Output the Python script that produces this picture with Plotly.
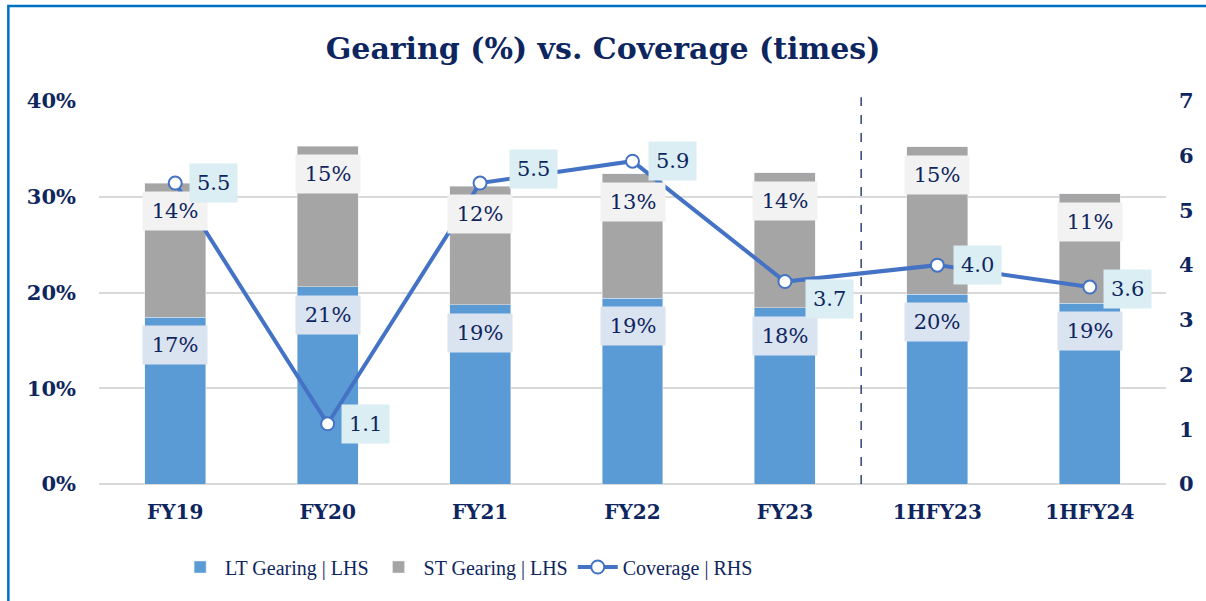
import plotly.graph_objects as go

categories = ["FY19", "FY20", "FY21", "FY22", "FY23", "1HFY23", "1HFY24"]
lt_gearing = [17.4, 20.6, 18.7, 19.4, 18.4, 19.8, 18.9]   # %
st_gearing = [14.0, 14.7, 12.4, 13.0, 14.1, 15.4, 11.4]   # %
coverage = [5.5, 1.1, 5.5, 5.9, 3.7, 4.0, 3.6]            # times

NAVY = "#0E2660"
LT_COL = "#5B9BD5"
ST_COL = "#A5A5A5"
LINE_COL = "#4472C4"
SERIF = "DejaVu Serif"

# label offsets for coverage labels (pixels)
cov_shift = [(38, 0), (38, 0), (53, 14), (40, 0), (45, -17), (40, 0), (38, -2)]

fig = go.Figure()
fig.add_trace(go.Bar(x=categories, y=[v / 100 for v in lt_gearing], name="LT Gearing | LHS",
                     marker=dict(color=LT_COL), width=0.4))
fig.add_trace(go.Bar(x=categories, y=[v / 100 for v in st_gearing], name="ST Gearing | LHS",
                     marker=dict(color=ST_COL), width=0.4))
fig.add_trace(go.Scatter(x=categories, y=coverage, name="Coverage | RHS", yaxis="y2",
                         mode="lines+markers",
                         line=dict(color=LINE_COL, width=4),
                         marker=dict(size=13, color="white", line=dict(color=LINE_COL, width=2))))

annotations = []
for i, c in enumerate(categories):
    lt = lt_gearing[i] / 100
    tot = (lt_gearing[i] + st_gearing[i]) / 100
    annotations.append(dict(x=c, y=lt, xref="x", yref="y", text=f"{lt_gearing[i]:.0f}%",
                            showarrow=False, yanchor="top", yshift=-8,
                            bgcolor="#DAE3F0", borderpad=7, width=50,
                            font=dict(family=SERIF, size=21, color=NAVY)))
    annotations.append(dict(x=c, y=tot, xref="x", yref="y", text=f"{st_gearing[i]:.0f}%",
                            showarrow=False, yanchor="top", yshift=-8,
                            bgcolor="#F2F2F2", borderpad=7, width=50,
                            font=dict(family=SERIF, size=21, color=NAVY)))
    dx, dy = cov_shift[i]
    annotations.append(dict(x=c, y=coverage[i], xref="x", yref="y2", text=f"{coverage[i]:.1f}",
                            showarrow=False, xshift=dx, yshift=dy,
                            bgcolor="#DAEEF3", borderpad=7,
                            font=dict(family=SERIF, size=21, color=NAVY)))

fig.update_layout(
    width=1206, height=601,
    margin=dict(l=99, r=36, t=101, b=117),
    paper_bgcolor="white", plot_bgcolor="white",
    barmode="stack", bargap=0.6,
    title=dict(text="<b>Gearing (%) vs. Coverage (times)</b>", x=0.5, xanchor="center",
               y=1 - 48 / 601, yanchor="middle", yref="container",
               font=dict(family=SERIF, size=30, color=NAVY)),
    xaxis=dict(type="category", showgrid=False, showline=False, ticks="",
               tickfont=dict(family=SERIF, size=20, color=NAVY, weight="bold"),
               ticklabelstandoff=14),
    yaxis=dict(range=[0, 0.40], dtick=0.1, tickformat=".0%", showgrid=True,
               gridcolor="#D9D9D9", gridwidth=2, zeroline=True, zerolinecolor="#D9D9D9",
               zerolinewidth=2,
               tickfont=dict(family=SERIF, size=21, color=NAVY, weight="bold"),
               ticklabelstandoff=22),
    yaxis2=dict(range=[0, 7], dtick=1, overlaying="y", side="right", showgrid=False,
                zeroline=False,
                tickfont=dict(family=SERIF, size=21, color=NAVY, weight="bold"),
                ticklabelstandoff=12),
    legend=dict(orientation="h", x=(468 - 99) / 1071, xanchor="center",
                y=(484 - 567) / 383, yanchor="middle",
                font=dict(family="Liberation Serif", size=20, color=NAVY),
                traceorder="normal", itemwidth=40),
    annotations=annotations,
    shapes=[
        dict(type="line", xref="x", yref="paper", x0=4.5, x1=4.5, y0=0, y1=1.01,
             line=dict(color=NAVY, width=1.3, dash="dash")),
        dict(type="rect", xref="paper", yref="paper",
             x0=(8 - 99) / 1071, x1=(1215 - 99) / 1071, y0=(484 - 615) / 383, y1=(484 - 6) / 383,
             line=dict(color="#0070C0", width=2.5), layer="below"),
    ],
    showlegend=True,
)

fig.write_html("out.html", config={"displayModeBar": False},
               post_script="document.body.style.margin='0';")
